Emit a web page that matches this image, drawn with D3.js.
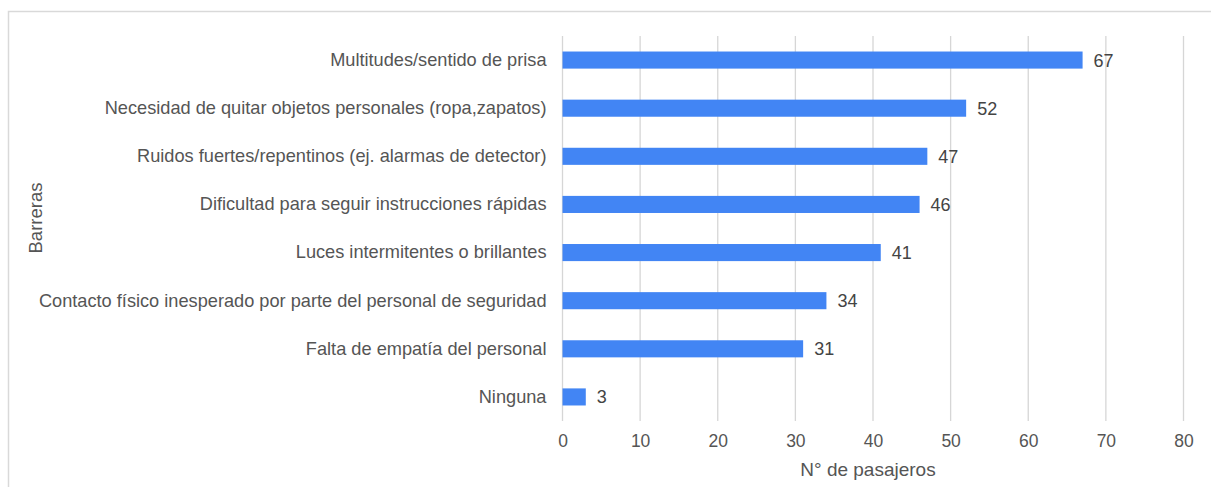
<!DOCTYPE html>
<html>
<head>
<meta charset="utf-8">
<script src="https://cdn.jsdelivr.net/npm/d3@7"></script>
<style>
  body { margin: 0; background: #fff; }
  text { font-family: "Liberation Sans", Arial, sans-serif; }
</style>
</head>
<body>
<div id="chart"></div>
<script>
"use strict";

var categories = [
  "Multitudes/sentido de prisa",
  "Necesidad de quitar objetos personales (ropa,zapatos)",
  "Ruidos fuertes/repentinos (ej. alarmas de detector)",
  "Dificultad para seguir instrucciones rápidas",
  "Luces intermitentes o brillantes",
  "Contacto físico inesperado por parte del personal de seguridad",
  "Falta de empatía del personal",
  "Ninguna"
];
var values = [67, 52, 47, 46, 41, 34, 31, 3];
var xTicks = [0, 10, 20, 30, 40, 50, 60, 70, 80];

var width = 1211, height = 487;
var plot = {left: 562.5, right: 1183.5, top: 36, bottom: 421};

var svg = d3.select("#chart").append("svg")
  .attr("width", width)
  .attr("height", height);

// frame of the original screenshot
svg.append("path")
  .attr("d", "M8.5," + height + "V11.5H" + width)
  .attr("fill", "none")
  .attr("stroke", "#d9d9d9")
  .attr("stroke-width", 1.5);

var x = d3.scaleLinear().domain([0, 80]).range([plot.left, plot.right]);
var y = d3.scaleBand().domain(categories).range([plot.top, plot.bottom])
  .paddingInner(0.645).paddingOuter(0.3225);

// grid
svg.append("g").selectAll("line")
  .data(xTicks)
  .enter().append("line")
  .attr("x1", function(d) { return x(d); })
  .attr("x2", function(d) { return x(d); })
  .attr("y1", plot.top)
  .attr("y2", plot.bottom)
  .attr("stroke", "#d6d6d6")
  .attr("stroke-width", 1.3);

// bars
svg.append("g").selectAll("rect")
  .data(values)
  .enter().append("rect")
  .attr("x", x(0))
  .attr("y", function(d, i) { return y(categories[i]); })
  .attr("width", function(d) { return x(d) - x(0); })
  .attr("height", y.bandwidth())
  .attr("fill", "#4285f4");

// value labels
svg.append("g").selectAll("text")
  .data(values)
  .enter().append("text")
  .attr("x", function(d) { return x(d) + 11; })
  .attr("y", function(d, i) { return y(categories[i]) + y.bandwidth() / 2; })
  .attr("dy", "0.36em")
  .attr("font-size", 18)
  .attr("fill", "#444")
  .text(function(d) { return d; });

// category axis
var yAxis = d3.axisLeft(y).tickSize(0).tickPadding(16);
var gY = svg.append("g")
  .attr("transform", "translate(" + x(0) + ",0)")
  .call(yAxis);
gY.select(".domain").remove();
gY.selectAll("text")
  .attr("font-size", 18.2)
  .attr("font-family", "'Liberation Sans', Arial, sans-serif")
  .attr("fill", "#555");

// value axis
var xAxis = d3.axisBottom(x).tickValues(xTicks).tickSize(0).tickPadding(14);
var gX = svg.append("g")
  .attr("transform", "translate(0," + plot.bottom + ")")
  .call(xAxis);
gX.select(".domain").remove();
gX.selectAll("text")
  .attr("font-size", 17.5)
  .attr("font-family", "'Liberation Sans', Arial, sans-serif")
  .attr("fill", "#555");

// axis titles
svg.append("text")
  .attr("x", 868)
  .attr("y", 469)
  .attr("dy", "0.36em")
  .attr("text-anchor", "middle")
  .attr("font-size", 19)
  .attr("fill", "#555")
  .text("N° de pasajeros");

svg.append("text")
  .attr("transform", "translate(35,218) rotate(-90)")
  .attr("dy", "0.36em")
  .attr("text-anchor", "middle")
  .attr("font-size", 18.5)
  .attr("fill", "#555")
  .text("Barreras");
</script>
</body>
</html>
